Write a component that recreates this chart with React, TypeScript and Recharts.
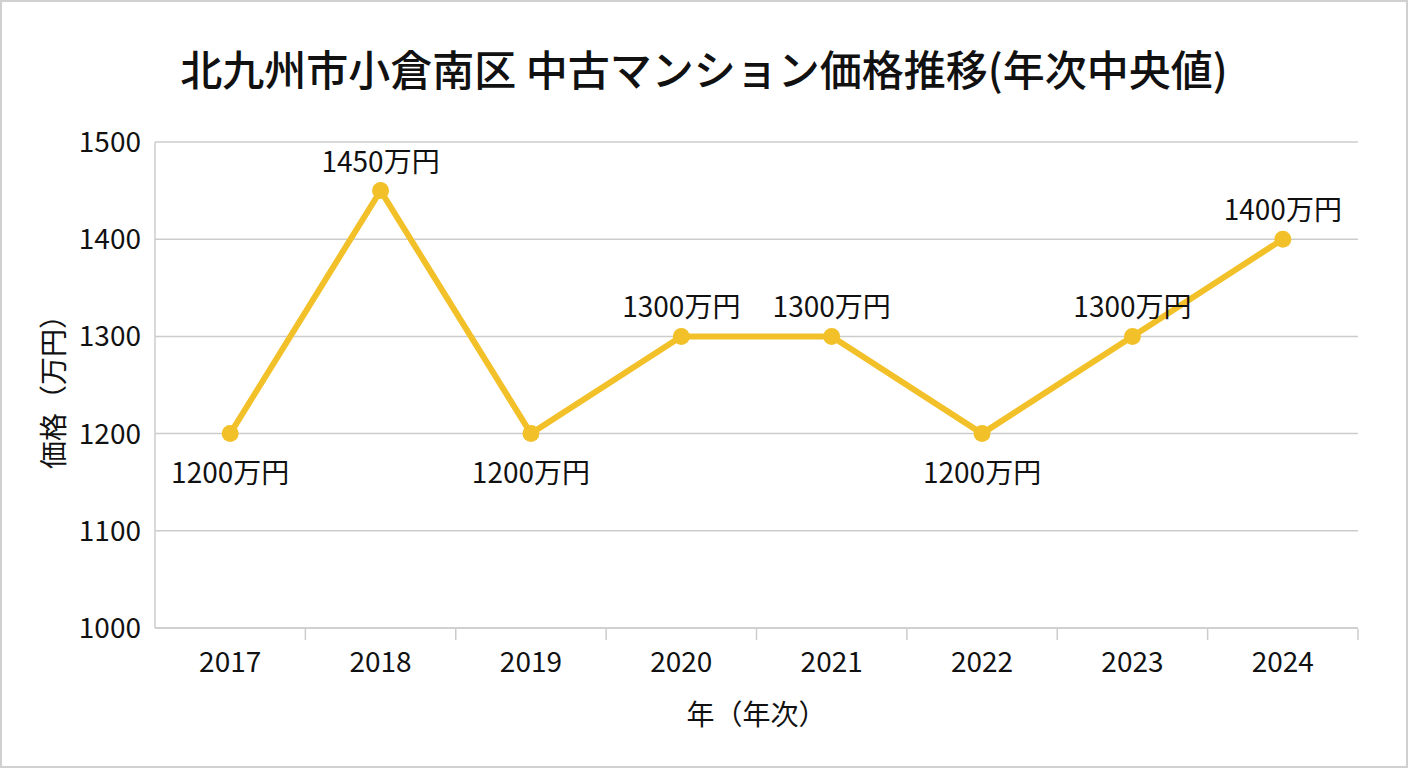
import React from 'react';
import { LineChart, Line, XAxis, YAxis, CartesianGrid, LabelList } from 'recharts';

const years = ['2017', '2018', '2019', '2020', '2021', '2022', '2023', '2024'];
const prices = [1200, 1450, 1200, 1300, 1300, 1200, 1300, 1400];
const yTicks = [1000, 1100, 1200, 1300, 1400, 1500];
const boundaryTicks = [1, 2, 3, 4, 5, 6, 7, 8];

const data = years.map((y, i) => ({ year: y, price: prices[i], idx: i + 0.5 }));

const FONT = '"Noto Sans CJK JP", "Noto Sans", sans-serif';
const LINE_COLOR = '#F2C12A';
const GRID = '#CCCCCC';

const isLocalMin = (i: number) => {
  const v = prices[i];
  const prev = i > 0 ? prices[i - 1] : Infinity;
  const next = i < prices.length - 1 ? prices[i + 1] : Infinity;
  return v < prev && v < next;
};

const PointLabel = (props: any) => {
  const { x, y, value, index } = props;
  const below = isLocalMin(index);
  return (
    <text
      x={x}
      y={below ? y + 37 : y - 31}
      textAnchor="middle"
      dominantBaseline="central"
      fontSize={28}
      fontFamily={FONT}
      fill="#111"
    >
      {`${value}万円`}
    </text>
  );
};

const YLabel = (props: any) => {
  const { viewBox } = props;
  const cx = 52;
  const cy = viewBox.y + viewBox.height / 2;
  return (
    <text
      x={cx}
      y={cy}
      transform={`rotate(-90, ${cx}, ${cy})`}
      textAnchor="middle"
      dominantBaseline="central"
      fontSize={28}
      fontFamily={FONT}
      fill="#111"
    >
      価格（万円）
    </text>
  );
};

const XLabel = (props: any) => {
  const { viewBox } = props;
  const cx = viewBox.x + viewBox.width / 2;
  return (
    <text
      x={cx}
      y={713}
      textAnchor="middle"
      dominantBaseline="central"
      fontSize={28}
      fontFamily={FONT}
      fill="#111"
    >
      年（年次）
    </text>
  );
};

export default function App() {
  return (
    <div
      style={{
        position: 'fixed',
        left: 0,
        top: 0,
        width: 1408,
        height: 768,
        background: '#fff',
        border: '2px solid #D0D0D0',
        boxSizing: 'border-box',
        fontFamily: FONT,
      }}
    >
      <div
        style={{
          position: 'absolute',
          left: -2,
          top: 38,
          width: 1408,
          textAlign: 'center',
          fontSize: 42,
          fontWeight: 500,
          lineHeight: '56px',
          color: '#111',
        }}
      >
        北九州市小倉南区 中古マンション価格推移(年次中央値)
      </div>
      <div style={{ position: 'absolute', left: -2, top: -2 }}>
        <LineChart
          width={1408}
          height={768}
          data={data}
          margin={{ top: 142, right: 50, bottom: 138, left: 60 }}
        >
          <CartesianGrid horizontal vertical={false} stroke={GRID} strokeWidth={1.5} />
          <XAxis
            dataKey="year"
            type="category"
            scale="band"
            tickLine={false}
            tickSize={0}
            tickMargin={24}
            axisLine={{ stroke: GRID, strokeWidth: 1.5 }}
            tick={{ fontSize: 28, fontFamily: FONT, fill: '#111' }}
            height={1}
            label={<XLabel />}
          />
          <XAxis
            xAxisId="b"
            type="number"
            dataKey="idx"
            domain={[0, 8]}
            allowDataOverflow
            ticks={boundaryTicks}
            tickFormatter={() => ''}
            tickLine={{ stroke: GRID, strokeWidth: 1.5 }}
            tickSize={11}
            axisLine={false}
            height={1}
          />
          <YAxis
            domain={[1000, 1500]}
            ticks={yTicks}
            type="number"
            width={95}
            tickLine={false}
            tickSize={0}
            tickMargin={14}
            axisLine={{ stroke: GRID, strokeWidth: 1.5 }}
            tick={{ fontSize: 28, fontFamily: FONT, fill: '#111' }}
            label={<YLabel />}
          />
          <Line
            type="linear"
            dataKey="price"
            stroke={LINE_COLOR}
            strokeWidth={6}
            dot={{ r: 8.5, fill: LINE_COLOR, stroke: LINE_COLOR, strokeWidth: 0 }}
            activeDot={false}
            isAnimationActive={false}
          >
            <LabelList dataKey="price" content={<PointLabel />} />
          </Line>
        </LineChart>
      </div>
    </div>
  );
}
